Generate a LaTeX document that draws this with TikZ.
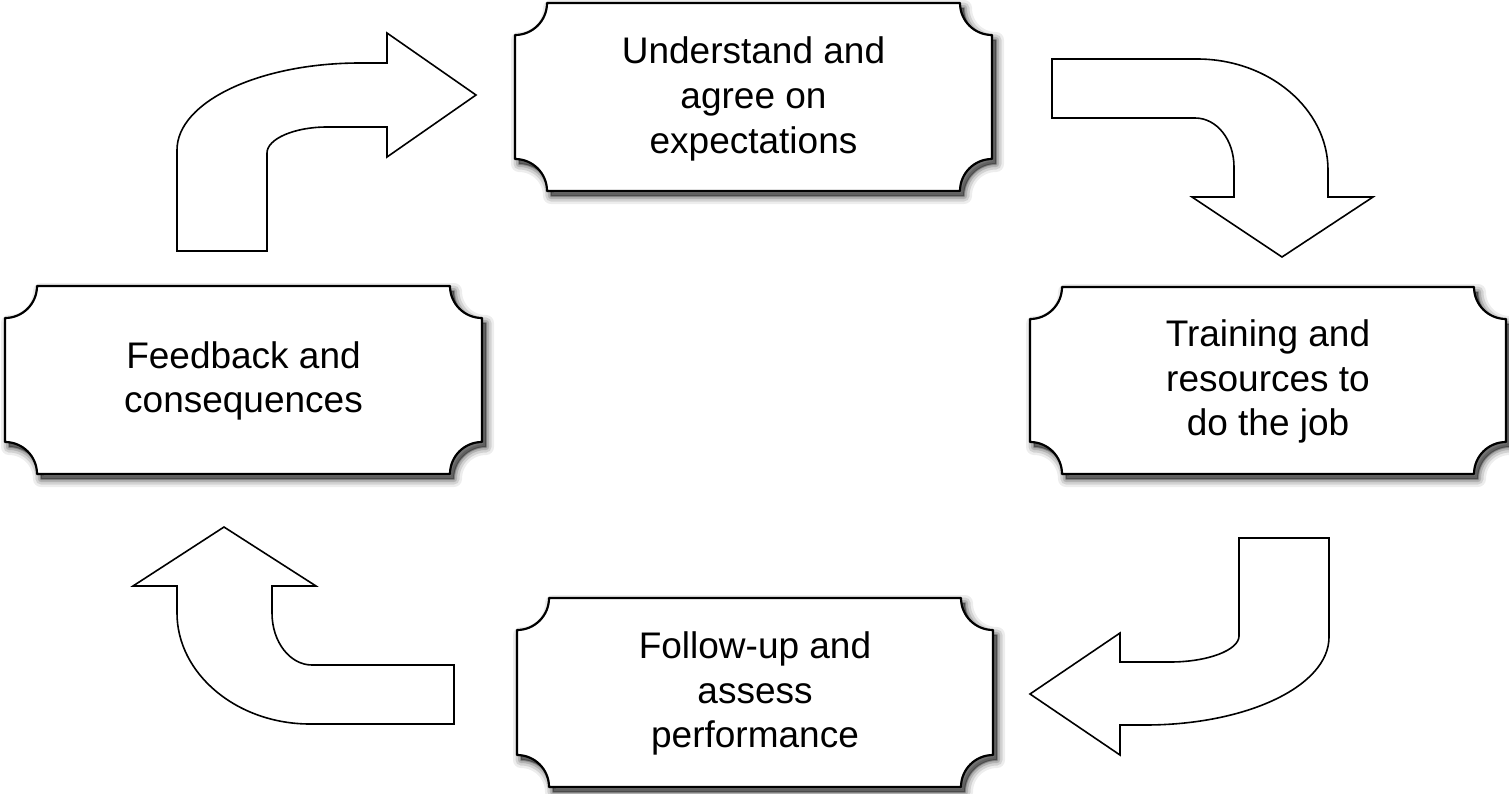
\documentclass[tikz,border=0pt]{standalone}
\usepackage{fontspec}
\setmainfont{Liberation Sans}
\newcommand\plaquepath[4]{%
 (#1,#2+32) .. controls (#1+17.7,#2+32) and (#1+32,#2+17.7) .. (#1+32,#2)
 -- (#3-32,#2) .. controls (#3-32,#2+17.7) and (#3-17.7,#2+32) .. (#3,#2+32)
 -- (#3,#4-32) .. controls (#3-17.7,#4-32) and (#3-32,#4-17.7) .. (#3-32,#4)
 -- (#1+32,#4) .. controls (#1+32,#4-17.7) and (#1+17.7,#4-32) .. (#1,#4-32) -- cycle}
\newcommand\plaqueshadow[4]{%
 \foreach \lw/\op in {8pt/0.07,5.5pt/0.11,3pt/0.15,1pt/0.22}{%
  \filldraw[black,opacity=\op,line width=\lw,line join=round,shift={(4,5)}] \plaquepath{#1}{#2}{#3}{#4};}}
\newcommand\plaque[4]{%
 \plaqueshadow{#1}{#2}{#3}{#4}
 \filldraw[plaque] \plaquepath{#1}{#2}{#3}{#4};}
\tikzset{
 plaque/.style={draw=black,fill=white,line width=1.1pt,line join=round},
 bentarrow/.style={draw=black,fill=white,line width=0.8pt,line join=miter},
 label/.style={align=center,font=\fontsize{18.5}{22.3}\selectfont,inner sep=0pt}
}
\begin{document}
\begin{tikzpicture}[x=0.5pt,y=-0.5pt]
\useasboundingbox[fill=white] (0,0) rectangle (1509,793);
% boxes
\plaque{515}{3}{992}{191}
\plaque{1030}{287}{1506}{474}
\plaque{517}{598}{993}{787}
\plaque{5}{286}{482}{474}
\node[label] (expect) at (753.5,99) {Understand and\\agree on\\expectations};
\node[label] (train) at (1268,381.5) {Training and\\resources to\\do the job};
\node[label] (follow) at (755,693.5) {Follow-up and\\assess\\performance};
\node[label] (feedback) at (243.5,381) {Feedback and\\consequences};
% arrow: feedback -> expectations (up then right)
\draw[bentarrow] (177,251) -- (177,150)
  .. controls (177,102) and (259,63) .. (360,63) -- (387,63) -- (387,33)
  -- (476,95) -- (387,157) -- (387,127) -- (327,127)
  .. controls (294,127) and (267,139) .. (267,153) -- (267,251) -- cycle;
% arrow: expectations -> training (right then down)
\draw[bentarrow] (1052,59) -- (1197,59)
  .. controls (1269,59) and (1328,109) .. (1328,170) -- (1328,197) -- (1373,197)
  -- (1282,257) -- (1192,197) -- (1234,197) -- (1234,167)
  .. controls (1234,140) and (1217,118) .. (1195,118) -- (1052,118) -- cycle;
% arrow: training -> follow-up (down then left)
\draw[bentarrow] (1239,538) -- (1329,538) -- (1329,637)
  .. controls (1329,686) and (1247,725) .. (1145,725) -- (1120,725) -- (1120,755)
  -- (1030,694) -- (1120,633) -- (1120,662) -- (1170,662)
  .. controls (1208,662) and (1239,650) .. (1239,636) -- cycle;
% arrow: follow-up -> feedback (left then up)
\draw[bentarrow] (454,665) -- (312,665)
  .. controls (290,665) and (272,642) .. (272,613) -- (272,586) -- (316,586)
  -- (224,527) -- (133,586) -- (177,586) -- (177,613)
  .. controls (177,674) and (237,724) .. (310,724) -- (454,724) -- cycle;
\end{tikzpicture}
\end{document}
